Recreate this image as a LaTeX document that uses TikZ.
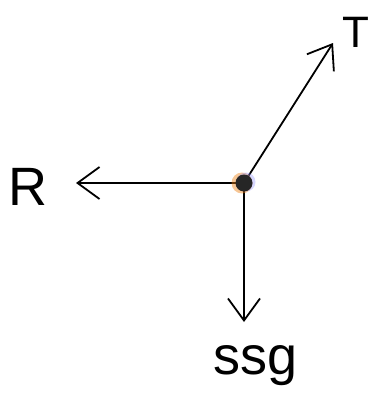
\documentclass[tikz,border=0pt]{standalone}
\usepackage{fontspec}
\setmainfont{Liberation Sans}
\usetikzlibrary{arrows.meta}
\begin{document}
\begin{tikzpicture}[x=1pt,y=-1pt,
  vec/.style={line width=1.8pt, line cap=round, -{Straight Barb[length=22pt,width=32pt,line width=1.8pt]}},
  lbl/.style={inner sep=0pt, font=\fontsize{44}{48}\selectfont}]
\useasboundingbox (0,0) rectangle (375,418);
\coordinate (o) at (244,183);
\coordinate (tT) at (333,43);
\coordinate (tR) at (76,183);
\coordinate (tS) at (244,322);
\node[lbl] (T) at (356,32) {T};
\node[lbl, font=\fontsize{54}{58}\selectfont] (R) at (28,187) {R};
\node[lbl, anchor=base, font=\fontsize{54}{58}\selectfont] (S) at (256,374) {ssg};
\draw[vec] (o) -- (tT);
\draw[vec] (o) -- (tR);
\draw[vec] (o) -- (tS);
\fill[orange!70!brown, opacity=0.45] (242,183) circle (10.5);
\fill[blue!45, opacity=0.35] (246,182) circle (9.5);
\node[circle, fill=black!85, minimum size=17pt, inner sep=0pt] (dot) at (o) {};
\end{tikzpicture}
\end{document}
